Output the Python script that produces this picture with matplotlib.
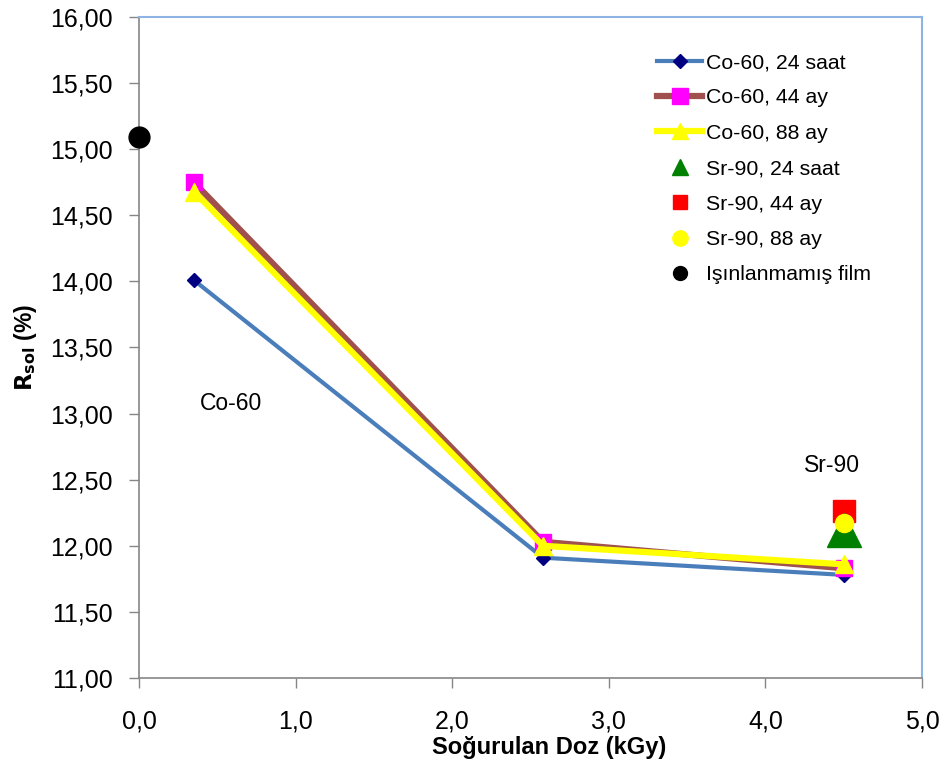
import matplotlib
matplotlib.use("Agg")
import matplotlib.pyplot as plt

plt.rcParams['font.family'] = ['Liberation Sans', 'DejaVu Sans']

# Absorbed dose (kGy) and solar reflectance R_sol (%)
co_dose = [0.35, 2.58, 4.50]
co_24_saat = [14.01, 11.91, 11.78]
co_44_ay = [14.75, 12.03, 11.83]
co_88_ay = [14.68, 12.00, 11.86]

sr_dose = [4.50]
sr_24_saat = [12.12]
sr_44_ay = [12.26]
sr_88_ay = [12.17]

unirradiated_dose = [0.0]
unirradiated = [15.09]

x_ticks = [0, 1, 2, 3, 4, 5]
y_ticks = [11.0, 11.5, 12.0, 12.5, 13.0, 13.5, 14.0, 14.5, 15.0, 15.5, 16.0]

fig = plt.figure(figsize=(9.44, 7.69), dpi=100)
ax = fig.add_axes([139 / 944, 1 - 678 / 769, (922 - 139) / 944, (678 - 17) / 769])

l1, = ax.plot(co_dose, co_24_saat, color='#4a7ebb', lw=3, marker='D', ms=7,
              mfc='#000080', mec='#000080', label='Co-60, 24 saat', zorder=3)
l2, = ax.plot(co_dose, co_44_ay, color='#a0504d', lw=4.5, marker='s', ms=11,
              mfc='#ff00ff', mec='#ff00ff', label='Co-60, 44 ay', zorder=4)
l3, = ax.plot(co_dose, co_88_ay, color='#ffff00', lw=4.5, marker='^', ms=13,
              mfc='#ffff00', mec='#ffff00', label='Co-60, 88 ay', zorder=5)

l5, = ax.plot(sr_dose, sr_44_ay, ls='none', marker='s', ms=16, color='#ff0000',
              label='Sr-90, 44 ay', zorder=6)
l4, = ax.plot(sr_dose, sr_24_saat, ls='none', marker='^', ms=24, color='#008000',
              label='Sr-90, 24 saat', zorder=7)
l6, = ax.plot(sr_dose, sr_88_ay, ls='none', marker='o', ms=13, color='#ffff00',
              label='Sr-90, 88 ay', zorder=8)
l7, = ax.plot(unirradiated_dose, unirradiated, ls='none', marker='o', ms=15,
              color='#000000', label='Işınlanmamış film', zorder=9, clip_on=False)

ax.set_xlim(0, 5)
ax.set_ylim(11, 16)
ax.set_xticks(x_ticks)
ax.set_xticklabels([f"{v:.1f}".replace('.', ',') for v in x_ticks], fontsize=18)
ax.set_yticks(y_ticks)
ax.set_yticklabels([f"{v:.2f}".replace('.', ',') for v in y_ticks], fontsize=18)
ax.tick_params(axis='both', direction='out', length=7, width=1, color='#868686')
ax.tick_params(axis='y', pad=12)
ax.tick_params(axis='x', pad=16)

for side in ('left', 'bottom'):
    ax.spines[side].set_color('#868686')
    ax.spines[side].set_linewidth(1.2)
for side in ('top', 'right'):
    ax.spines[side].set_color('#8eb4e3')
    ax.spines[side].set_linewidth(1.5)

ax.set_xlabel('Soğurulan Doz (kGy)', fontsize=17, fontweight='bold')
ax.xaxis.set_label_coords((549 - 139) / 783, -0.088)
ax.set_ylabel(r'$\mathbf{R_{sol}}$ (%)', fontsize=16.5, fontweight='bold', labelpad=8)

ax.text(0.59, 13.08, 'Co-60', fontsize=16.5, ha='center', va='center')
ax.text(4.425, 12.61, 'Sr-90', fontsize=16.5, ha='center', va='center')

handles = [l1, l2, l3, l4, l5, l6, l7]
leg = ax.legend(handles=handles, loc='upper left', frameon=False, fontsize=15.3,
                bbox_to_anchor=(638 / 944, 1 - 34 / 769),
                bbox_transform=fig.transFigure, handlelength=2.12,
                handletextpad=0.2, labelspacing=0.77)
legend_sizes = [7, 11, 12, 11, 10, 11, 10]
for h, s in zip(leg.legend_handles, legend_sizes):
    h.set_markersize(s)

fig.savefig('out.png', dpi=100)
